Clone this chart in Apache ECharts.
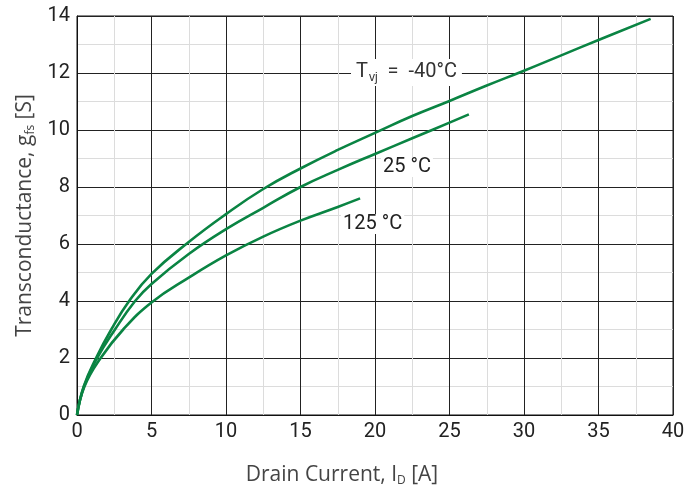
<!DOCTYPE html>
<html><head><meta charset="utf-8">
<script src="https://cdn.jsdelivr.net/npm/echarts@6/dist/echarts.min.js"></script>
<style>html,body{margin:0;padding:0;background:#fff}#c{width:696px;height:494px}</style>
</head><body><div id="c"></div>
<script>
const xTicks = [0,5,10,15,20,25,30,35,40];
const yTicks = [0,2,4,6,8,10,12,14];
const seriesNames = ['-40°C','25°C','125°C'];
const tMinus40 = [[0,0],[0.45,1],[1.28,2],[2.3,3],[3.5,4],[5,4.95],[7.5,6.07],[10,7.05],[12.5,7.93],[15,8.65],[17.5,9.3],[20,9.9],[22.5,10.49],[25,11.02],[27.5,11.56],[30,12.08],[32.5,12.62],[35,13.16],[38.5,13.9]];
const t25 = [[0,0],[0.47,1],[1.36,2],[2.55,3],[3.9,4],[5,4.6],[7.5,5.65],[10,6.52],[12.5,7.27],[15,8.0],[17.5,8.6],[20,9.16],[22.5,9.71],[25,10.26],[26.3,10.55]];
const t125 = [[0,0],[0.5,1],[1.59,2],[3.1,3],[5,3.95],[7.5,4.82],[10,5.6],[12.5,6.26],[15,6.82],[17.5,7.3],[19,7.6]];

const chart = echarts.init(document.getElementById('c'));
const font = 'Roboto, "Liberation Sans", sans-serif';
const tfont = '"Open Sans", Roboto, sans-serif';
const green = '#0a8443';
function mk(name, data){
  return {name, type:'line', data, smooth:0.45, showSymbol:false, symbol:'none',
    lineStyle:{color:green, width:2.6}, z:3};
}
chart.setOption({
  animation:false,
  grid:{left:77, right:23, top:16, bottom:79, show:true, borderColor:'#111', borderWidth:1},
  xAxis:{type:'value', min:0, max:40, interval:5,
    name:'Drain Current, I{sub|D} [A]', nameLocation:'middle', nameGap:48,
    nameTextStyle:{fontFamily:tfont, fontSize:21, color:'#444', padding:[0,66,0,0],
      rich:{sub:{fontFamily:tfont, fontSize:12, color:'#444', padding:[12,0,0,0]}}},
    axisLine:{lineStyle:{color:'#111', width:1}}, axisTick:{show:false},
    axisLabel:{fontFamily:font, fontSize:20, color:'#222', margin:7},
    splitLine:{lineStyle:{color:'#222', width:1}},
    minorTick:{show:false, splitNumber:2},
    minorSplitLine:{show:true, lineStyle:{color:'#dcdcdc', width:1}}
  },
  yAxis:{type:'value', min:0, max:14, interval:2,
    name:'Transconductance, g{sub|fs} [S]', nameLocation:'middle', nameGap:39,
    nameTextStyle:{fontFamily:tfont, fontSize:21, color:'#444',
      rich:{sub:{fontFamily:tfont, fontSize:12, color:'#444', padding:[12,0,0,0]}}},
    axisLine:{show:true, lineStyle:{color:'#111', width:1}}, axisTick:{show:false},
    axisLabel:{fontFamily:font, fontSize:20, color:'#222', margin:7},
    splitLine:{lineStyle:{color:'#222', width:1}},
    minorTick:{show:false, splitNumber:2},
    minorSplitLine:{show:true, lineStyle:{color:'#dcdcdc', width:1}}
  },
  series:[mk(seriesNames[0], tMinus40), mk(seriesNames[1], t25), mk(seriesNames[2], t125)],
  graphic:[
    {type:'text', left:351, top:59, z:10, style:{
      text:'T{sub|vj}  =  -40°C', fill:'#333', font:'20px '+font, backgroundColor:'#fff', padding:[0,5,2,5],
      rich:{sub:{fontSize:12, fill:'#333', padding:[13,0,0,1]}}}},
    {type:'text', left:381, top:157, z:10, style:{
      text:'25 °C', fill:'#222', font:'20px '+font, backgroundColor:'#fff', padding:[0,2,0,2]}},
    {type:'text', left:341, top:214, z:10, style:{
      text:'125 °C', fill:'#222', font:'20px '+font, backgroundColor:'#fff', padding:[0,2,0,2]}}
  ]
});
</script></body></html>
